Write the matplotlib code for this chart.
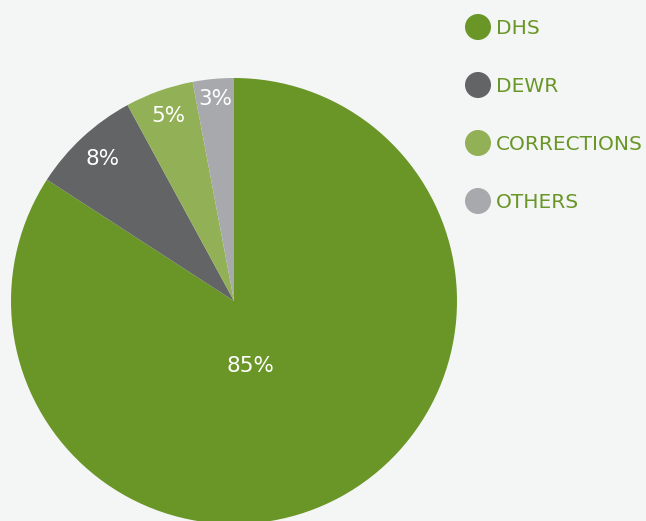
import numpy as np
import matplotlib
matplotlib.use('Agg')
import matplotlib.pyplot as plt

categories = ['DHS', 'DEWR', 'CORRECTIONS', 'OTHERS']
shares = [85, 8, 5, 3]
colors = ['#6a9628', '#636466', '#92b055', '#a8a9ad']
label_dist = [0.3, 0.87, 0.88, 0.91]  # radial position of each % label
label_turn = [-14, 0, 0, 0]  # degrees off the wedge middle

W, H = 646, 521
fig = plt.figure(figsize=(W / 100, H / 100), dpi=100)
fig.patch.set_facecolor('#f4f6f5')

# pie centre (234, 301) px, radius 223 px
cx, cy, r = 234, 301, 223
ax = fig.add_axes([(cx - r) / W, (H - cy - r) / H, 2 * r / W, 2 * r / H])
ax.set_facecolor('none')

wedges, _ = ax.pie(shares, colors=colors, startangle=90, counterclock=False,
                   wedgeprops=dict(linewidth=0))
for w, s, d, t in zip(wedges, shares, label_dist, label_turn):
    mid = np.deg2rad((w.theta1 + w.theta2) / 2 + t)
    ax.text(d * np.cos(mid), d * np.sin(mid), f'{s}%', ha='center', va='center',
            color='white', fontsize=15.5)
ax.set_xlim(-1, 1)
ax.set_ylim(-1, 1)
ax.set_aspect('auto')
ax.axis('off')

# legend drawn in pixel space
lg = fig.add_axes([0, 0, 1, 1])
lg.set_xlim(0, W)
lg.set_ylim(H, 0)
lg.axis('off')
lg.patch.set_alpha(0)
rows = 27 + 58 * np.arange(len(categories))
lg.scatter(np.full(len(rows), 478), rows, s=26 ** 2 * 0.52, c=colors, linewidths=0)
for y, name in zip(rows, categories):
    lg.text(496, y + 1, name, color='#6a9628', fontsize=14.5, va='center', ha='left')

fig.savefig('out.png', dpi=100, facecolor=fig.get_facecolor())
